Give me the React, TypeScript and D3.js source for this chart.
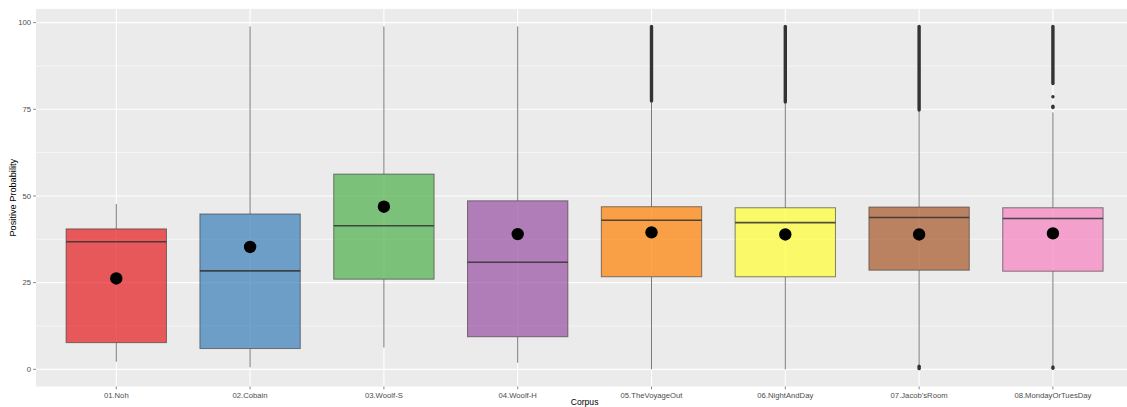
import React from 'react';
import * as d3 from 'd3';

// corpus names, in the order they sit on the x axis
const categories = [
  '01.Noh',
  '02.Cobain',
  '03.Woolf-S',
  '04.Woolf-H',
  '05.TheVoyageOut',
  '06.NightAndDay',
  "07.Jacob'sRoom",
  '08.MondayOrTuesDay',
];

// box statistics (positive probability, 0-100)
const whiskerLow = [2.2, 0.6, 6.3, 1.9, 0.0, 0.0, 1.3, 1.1];
const q1 = [7.7, 6.0, 26.0, 9.4, 26.7, 26.7, 28.6, 28.3];
const medians = [36.8, 28.4, 41.4, 30.9, 43.0, 42.3, 43.8, 43.5];
const q3 = [40.5, 44.8, 56.3, 48.6, 46.9, 46.6, 46.8, 46.6];
const whiskerHigh = [47.7, 98.9, 98.9, 98.9, 77.0, 76.7, 74.4, 74.1];
const means = [26.2, 35.3, 46.9, 39.0, 39.5, 38.9, 38.9, 39.2];

// runs of outliers so dense they print as one solid stroke: [category index, from, to]
const outlierRuns: [number, number, number][] = [
  [4, 77.4, 98.9],
  [5, 77.1, 98.9],
  [6, 74.8, 98.9],
  [6, 0.2, 0.9],
  [7, 82.4, 98.9],
  [7, 0.3, 0.7],
];

// lone outliers: [category index, value]
const outlierPoints: [number, number][] = [
  [7, 78.6],
  [7, 75.9],
  [7, 75.5],
];

const yTicks = [0, 25, 50, 75, 100];
const yMinorTicks = [12.5, 37.5, 62.5, 87.5];

// RColorBrewer Set1, drawn at alpha 0.7
const fills = ['#E41A1C', '#377EB8', '#4DAF4A', '#984EA3', '#FF7F00', '#FFFF33', '#A65628', '#F781BF'];

const width = 1127;
const height = 407;
const panel = { left: 36, right: 1133.2, top: 8.9, bottom: 386.5 };
const font = '"Liberation Sans", Arial, sans-serif';

export default function App() {
  // discrete x scale, 0.6 step of padding at each end like ggplot
  const x = d3.scalePoint<string>().domain(categories).range([panel.left, panel.right]).padding(0.6);
  const y = d3.scaleLinear().domain([-4.95, 103.95]).range([panel.bottom, panel.top]);
  const boxWidth = x.step() * 0.75;

  return (
    <svg
      width={width}
      height={height}
      style={{ position: 'absolute', left: 0, top: 0, background: '#fff' }}
    >
      <defs>
        <clipPath id="panel-clip">
          <rect x={panel.left} y={panel.top} width={panel.right - panel.left} height={panel.bottom - panel.top} />
        </clipPath>
      </defs>

      {/* panel background and grid */}
      <rect
        x={panel.left}
        y={panel.top}
        width={panel.right - panel.left}
        height={panel.bottom - panel.top}
        fill="#EBEBEB"
      />
      {yMinorTicks.map((t) => (
        <line key={'minor' + t} x1={panel.left} x2={panel.right} y1={y(t)} y2={y(t)} stroke="#fff" strokeWidth={0.55} />
      ))}
      {yTicks.map((t) => (
        <line key={'major' + t} x1={panel.left} x2={panel.right} y1={y(t)} y2={y(t)} stroke="#fff" strokeWidth={1.1} />
      ))}
      {categories.map((c) => (
        <line key={'vgrid' + c} x1={x(c)} x2={x(c)} y1={panel.top} y2={panel.bottom} stroke="#fff" strokeWidth={1.1} />
      ))}

      <g clipPath="url(#panel-clip)">
        {categories.map((c, i) => {
          const cx = x(c) as number;
          return (
            <g key={c}>
              {/* whiskers */}
              <line x1={cx} x2={cx} y1={y(q3[i])} y2={y(whiskerHigh[i])} stroke="#333" strokeOpacity={0.65} strokeWidth={1} />
              <line x1={cx} x2={cx} y1={y(q1[i])} y2={y(whiskerLow[i])} stroke="#333" strokeOpacity={0.65} strokeWidth={1} />
              {/* box */}
              <rect
                x={cx - boxWidth / 2}
                y={y(q3[i])}
                width={boxWidth}
                height={y(q1[i]) - y(q3[i])}
                fill={fills[i]}
                fillOpacity={0.7}
                stroke="#333"
                strokeOpacity={0.6}
                strokeWidth={1}
              />
              {/* median */}
              <line
                x1={cx - boxWidth / 2}
                x2={cx + boxWidth / 2}
                y1={y(medians[i])}
                y2={y(medians[i])}
                stroke="#333"
                strokeOpacity={0.85}
                strokeWidth={1.6}
              />
            </g>
          );
        })}

        {/* outliers */}
        {outlierRuns.map(([i, from, to], k) => (
          <line
            key={'run' + k}
            x1={x(categories[i])}
            x2={x(categories[i])}
            y1={y(from)}
            y2={y(to)}
            stroke="#333"
            strokeWidth={3.4}
            strokeLinecap="round"
          />
        ))}
        {outlierPoints.map(([i, v], k) => (
          <circle key={'pt' + k} cx={x(categories[i])} cy={y(v)} r={1.7} fill="#333" />
        ))}

        {/* means */}
        {categories.map((c, i) => (
          <circle key={'mean' + c} cx={x(c)} cy={y(means[i])} r={6.2} fill="#000" />
        ))}
      </g>

      {/* y axis */}
      {yTicks.map((t) => (
        <g key={'ytick' + t}>
          <line x1={panel.left - 2.8} x2={panel.left} y1={y(t)} y2={y(t)} stroke="#333" strokeWidth={0.6} />
          <text
            x={panel.left - 5}
            y={y(t)}
            dy="0.35em"
            textAnchor="end"
            fontFamily={font}
            fontSize={7.7}
            fill="#4D4D4D"
          >
            {t}
          </text>
        </g>
      ))}
      <text
        transform={`translate(15.5, ${(panel.top + panel.bottom) / 2}) rotate(-90)`}
        textAnchor="middle"
        fontFamily={font}
        fontSize={9.2}
        fill="#000"
      >
        Positive Probability
      </text>

      {/* x axis */}
      {categories.map((c) => (
        <g key={'xtick' + c}>
          <line x1={x(c)} x2={x(c)} y1={panel.bottom} y2={panel.bottom + 2.8} stroke="#333" strokeWidth={0.6} />
          <text
            x={x(c)}
            y={397.8}
            textAnchor="middle"
            fontFamily={font}
            fontSize={7.7}
            fill="#4D4D4D"
          >
            {c}
          </text>
        </g>
      ))}
      {/* axis title sits at the very bottom edge, as in the original */}
      <text
        x={(panel.left + panel.right) / 2}
        y={405}
        textAnchor="middle"
        fontFamily={font}
        fontSize={8.6}
        fill="#000"
      >
        Corpus
      </text>
    </svg>
  );
}
